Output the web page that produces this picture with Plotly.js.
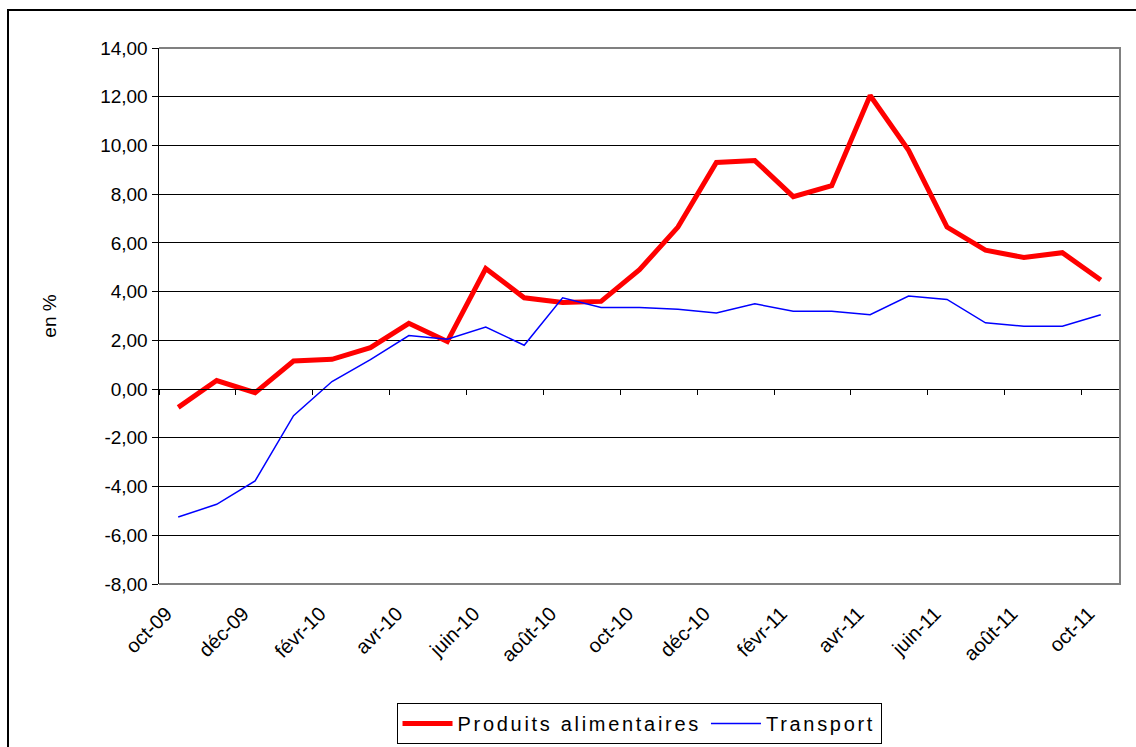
<!DOCTYPE html>
<html>
<head>
<meta charset="utf-8">
<script src="https://cdn.plot.ly/plotly-3.0.1.min.js"></script>
<style>
  html, body { margin: 0; padding: 0; background: #fff; overflow: hidden; }
  #chart { width: 1136px; height: 747px; position: relative; }
  #frame { position: absolute; left: 7px; top: 9px; width: 1150px; height: 760px;
           border-left: 2px solid #000; border-top: 2px solid #000; pointer-events: none; }
  .legendtext { letter-spacing: 2.7px; }
</style>
</head>
<body>
<div id="chart"></div>
<div id="frame"></div>
<script>
const categories = ['oct-09','nov-09','déc-09','janv-10','févr-10','mars-10','avr-10','mai-10','juin-10','juil-10','août-10','sept-10','oct-10','nov-10','déc-10','janv-11','févr-11','mars-11','avr-11','mai-11','juin-11','juil-11','août-11','sept-11','oct-11'];
const produitsAlimentaires = [-0.75,0.35,-0.15,1.15,1.22,1.7,2.7,1.95,4.95,3.75,3.55,3.6,4.9,6.65,9.3,9.38,7.9,8.35,12.05,9.8,6.65,5.7,5.4,5.6,4.48];
const transport = [-5.25,-4.73,-3.77,-1.09,0.31,1.21,2.2,2.05,2.55,1.8,3.75,3.35,3.35,3.28,3.12,3.5,3.2,3.2,3.05,3.82,3.68,2.72,2.58,2.58,3.05];
const yTicks = [-8,-6,-4,-2,0,2,4,6,8,10,12,14];
const yTickText = yTicks.map(v => v.toFixed(2).replace('.', ','));
const xTickVals = categories.filter((c, i) => i % 2 === 0);

const font = 'Liberation Sans, Arial, sans-serif';

const traces = [
  { x: categories, y: produitsAlimentaires, type: 'scatter', mode: 'lines',
    name: 'Produits alimentaires', line: { color: '#ff0000', width: 5 } },
  { x: categories, y: transport, type: 'scatter', mode: 'lines',
    name: 'Transport', line: { color: '#0000ff', width: 1.5 } },
  { x: [], y: [], xaxis: 'x2', type: 'scatter', mode: 'lines', showlegend: false, hoverinfo: 'skip' }
];

const layout = {
  width: 1136, height: 747,
  margin: { l: 159, r: 16, t: 48, b: 163, autoexpand: false },
  paper_bgcolor: '#fff', plot_bgcolor: '#fff',
  font: { family: font, color: '#000', size: 19 },
  showlegend: true,
  legend: {
    orientation: 'h', x: 0.4995, xanchor: 'center', y: -0.222, yanchor: 'top',
    bordercolor: '#000', borderwidth: 1, bgcolor: '#fff',
    font: { family: font, size: 20, color: '#000' },
    itemwidth: 50, tracegroupgap: 0
  },
  xaxis: {
    type: 'category', range: [-0.5, categories.length - 0.5], automargin: false,
    tickmode: 'array', tickvals: xTickVals, ticktext: xTickVals,
    tickangle: -45, ticks: '', showgrid: false, showline: false, zeroline: false,
    ticklabelstandoff: 13, ticklabelshift: -12,
    tickfont: { family: font, size: 20, color: '#000' }, fixedrange: true
  },
  xaxis2: {
    overlaying: 'x', anchor: 'free', position: 8 / 22, automargin: false,
    range: [-0.5, categories.length - 0.5], tickmode: 'linear', tick0: -0.5, dtick: 2,
    ticks: 'outside', ticklen: 5, tickcolor: '#000', tickwidth: 1,
    showticklabels: false, showgrid: false, zeroline: false,
    showline: true, linecolor: '#000', linewidth: 1
  },
  yaxis: {
    range: [-8, 14], tickmode: 'array', tickvals: yTicks, ticktext: yTickText, automargin: false,
    showgrid: true, gridcolor: '#000', gridwidth: 1,
    zeroline: false, showline: true, linecolor: '#000', linewidth: 1.5,
    ticks: 'outside', ticklen: 6, tickcolor: '#000',
    tickfont: { family: font, size: 19, color: '#000' },
    title: { text: 'en %', font: { family: font, size: 19, color: '#000' }, standoff: 38 }
  },
  shapes: [
    { type: 'path', xref: 'paper', yref: 'paper', path: 'M0,1 L1,1 L1,0 L0,0',
      line: { color: '#808080', width: 2 }, layer: 'above' }
  ]
};

Plotly.newPlot('chart', traces, layout, { displayModeBar: false, staticPlot: true });
</script>
</body>
</html>
